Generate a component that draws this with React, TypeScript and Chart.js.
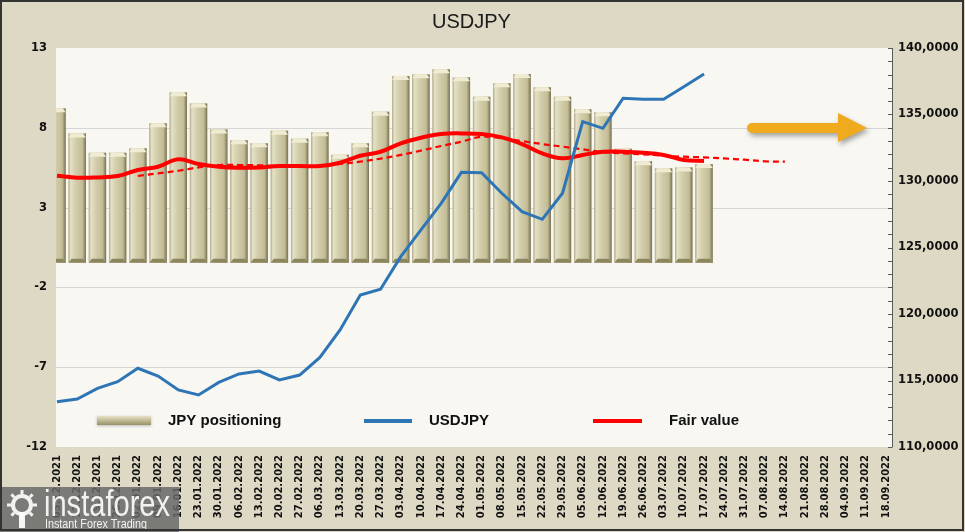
import React, { useEffect, useRef } from 'react';
import { Chart, registerables } from 'chart.js';

Chart.register(...registerables);

const DATES = [
  '05.12.2021', '12.12.2021', '19.12.2021', '26.12.2021',
  '02.01.2022', '09.01.2022', '16.01.2022', '23.01.2022', '30.01.2022',
  '06.02.2022', '13.02.2022', '20.02.2022', '27.02.2022',
  '06.03.2022', '13.03.2022', '20.03.2022', '27.03.2022',
  '03.04.2022', '10.04.2022', '17.04.2022', '24.04.2022',
  '01.05.2022', '08.05.2022', '15.05.2022', '22.05.2022', '29.05.2022',
  '05.06.2022', '12.06.2022', '19.06.2022', '26.06.2022',
  '03.07.2022', '10.07.2022', '17.07.2022', '24.07.2022', '31.07.2022',
  '07.08.2022', '14.08.2022', '21.08.2022', '28.08.2022',
  '04.09.2022', '11.09.2022', '18.09.2022',
];

const JPY_POSITIONING = [
  9.22, 7.65, 6.44, 6.44, 6.72, 8.28, 10.22, 9.53, 7.9, 7.22, 7.03, 7.82, 7.32,
  7.72, 6.31, 7.03, 9.01, 11.25, 11.35, 11.67, 11.16, 9.95, 10.79, 11.37, 10.54,
  9.95, 9.16, 8.97, 6.69, 5.9, 5.46, 5.52, 5.73,
];

const USDJPY = [
  113.41, 113.61, 114.41, 114.91, 115.92, 115.34, 114.29, 113.91, 114.86, 115.49,
  115.71, 115.04, 115.41, 116.74, 118.8, 121.43, 121.86, 124.31, 126.32, 128.32,
  130.65, 130.62, 129.08, 127.69, 127.12, 129.08, 134.46, 133.96, 136.22, 136.14,
  136.14, 137.09, 138.05,
];

const FAIR_VALUE = [
  5.0, 4.87, 4.89, 4.98, 5.36, 5.56, 6.03, 5.73, 5.56, 5.5, 5.52, 5.6, 5.6, 5.6,
  5.81, 6.25, 6.5, 7.03, 7.38, 7.61, 7.65, 7.61, 7.4, 6.98, 6.4, 6.09, 6.3, 6.5,
  6.5, 6.44, 6.3, 5.98, 5.92,
];

const FAIR_TREND = [
  null, null, null, null,
  4.98, 5.15, 5.31, 5.52, 5.67, 5.67, 5.65, 5.6, 5.6, 5.62, 5.73, 5.88, 6.07,
  6.3, 6.57, 6.86, 7.13, 7.44, 7.34, 7.17, 6.98, 6.82, 6.65, 6.48, 6.4, 6.34,
  6.25, 6.19, 6.15, 6.08, 6.0, 5.9, 5.88,
];

const LEFT_MIN = -12;
const LEFT_MAX = 13;
const LEFT_STEP = 5;
const RIGHT_MIN = 110;
const RIGHT_MAX = 140;
const RIGHT_STEP = 5;
const BAR_BASE = -0.45;

const TITLE = 'USDJPY';
const LEGEND_LABELS = ['JPY positioning', 'USDJPY', 'Fair value'];

const W = 965;
const H = 532;
const BEIGE = '#ddd9c4';
const PLOT_BG = '#f8f7f2';
const BLUE = '#2e75b6';
const RED = '#ff0000';

const backgroundPlugin = {
  id: 'bgPlugin',
  beforeDraw(chart: any) {
    const { ctx, chartArea } = chart;
    const yScale = chart.scales.y;
    const y2 = chart.scales.y2;
    ctx.save();
    ctx.fillStyle = BEIGE;
    ctx.fillRect(0, 0, W, H);
    const plotL = chartArea.left - 1;
    const plotR = chartArea.right + 6;
    ctx.fillStyle = PLOT_BG;
    ctx.fillRect(plotL, chartArea.top, plotR - plotL, chartArea.bottom - chartArea.top);
    ctx.strokeStyle = '#d6d6d6';
    ctx.lineWidth = 1;
    yScale.ticks.forEach((t: any) => {
      if (t.value === LEFT_MIN || t.value === LEFT_MAX) return;
      const py = Math.round(yScale.getPixelForValue(t.value)) + 0.5;
      ctx.beginPath();
      ctx.moveTo(plotL, py);
      ctx.lineTo(plotR, py);
      ctx.stroke();
    });
    ctx.strokeStyle = '#5a5a5a';
    ctx.beginPath();
    ctx.moveTo(plotR + 0.5, chartArea.top);
    ctx.lineTo(plotR + 0.5, chartArea.bottom);
    ctx.stroke();
    for (let v = RIGHT_MIN; v <= RIGHT_MAX; v += 1) {
      const py = Math.round(y2.getPixelForValue(v)) + 0.5;
      ctx.beginPath();
      ctx.moveTo(plotR - 4, py);
      ctx.lineTo(plotR + 0.5, py);
      ctx.stroke();
    }
    ctx.restore();
  },
};

const barPainter = {
  id: 'barPainter',
  afterDatasetDraw(chart: any, args: any) {
    if (args.index !== 0) return;
    const { ctx, chartArea } = chart;
    ctx.save();
    ctx.beginPath();
    ctx.rect(chartArea.left - 1, chartArea.top, chartArea.right - chartArea.left + 2, chartArea.bottom - chartArea.top);
    ctx.clip();
    args.meta.data.forEach((el: any) => {
      const { x, y, base, width } = el.getProps(['x', 'y', 'base', 'width'], true);
      const l = x - width / 2;
      const r = x + width / 2;
      const g = ctx.createLinearGradient(l, 0, r, 0);
      g.addColorStop(0, '#aea883');
      g.addColorStop(0.12, '#e5e1c7');
      g.addColorStop(0.4, '#d3ceab');
      g.addColorStop(0.8, '#c3bd97');
      g.addColorStop(1, '#767050');
      ctx.fillStyle = g;
      ctx.fillRect(l, y, width, base - y);
      ctx.fillStyle = '#f0ecd3';
      ctx.beginPath();
      ctx.moveTo(l, y + 4);
      ctx.lineTo(l + 3, y);
      ctx.lineTo(r - 3, y);
      ctx.lineTo(r, y + 4);
      ctx.closePath();
      ctx.fill();
      ctx.fillStyle = '#8c865f';
      ctx.beginPath();
      ctx.moveTo(l, base);
      ctx.lineTo(l + 3, base - 4);
      ctx.lineTo(r - 3, base - 4);
      ctx.lineTo(r, base);
      ctx.closePath();
      ctx.fill();
    });
    ctx.restore();
  },
};

function fitText(ctx: CanvasRenderingContext2D, text: string, x: number, y: number, width: number) {
  const m = ctx.measureText(text).width;
  ctx.save();
  ctx.translate(x, y);
  ctx.scale(width / m, 1);
  ctx.fillText(text, 0, 0);
  ctx.restore();
}

const decorPlugin = {
  id: 'decor',
  afterDraw(chart: any) {
    const { ctx, chartArea } = chart;
    ctx.save();
    ctx.fillStyle = '#1a1a1a';
    ctx.font = '20px "Liberation Sans", Arial, sans-serif';
    ctx.textAlign = 'center';
    ctx.textBaseline = 'middle';
    ctx.fillText(TITLE, (chartArea.left + chartArea.right) / 2, 22);

    const ly = 421;
    ctx.textAlign = 'left';
    ctx.font = 'bold 15px "Liberation Sans", Arial, sans-serif';
    const lg = ctx.createLinearGradient(0, ly - 5, 0, ly + 5);
    lg.addColorStop(0, '#e6e2c6');
    lg.addColorStop(0.5, '#bdb68f');
    lg.addColorStop(1, '#8d875f');
    ctx.shadowColor = 'rgba(0,0,0,0.25)';
    ctx.shadowBlur = 3;
    ctx.shadowOffsetY = 1;
    ctx.fillStyle = lg;
    ctx.fillRect(97, ly - 5, 54, 9);
    ctx.shadowColor = 'transparent';
    ctx.fillStyle = '#111';
    ctx.fillText(LEGEND_LABELS[0], 168, ly);

    ctx.strokeStyle = BLUE;
    ctx.lineWidth = 4;
    ctx.beginPath();
    ctx.moveTo(364, ly);
    ctx.lineTo(412, ly);
    ctx.stroke();
    ctx.fillText(LEGEND_LABELS[1], 429, ly);

    ctx.strokeStyle = RED;
    ctx.beginPath();
    ctx.moveTo(593, ly);
    ctx.lineTo(642, ly);
    ctx.stroke();
    ctx.fillText(LEGEND_LABELS[2], 669, ly);

    // arrow
    ctx.shadowColor = 'rgba(0,0,0,0.35)';
    ctx.shadowBlur = 5;
    ctx.shadowOffsetX = 2;
    ctx.shadowOffsetY = 3;
    ctx.fillStyle = '#f0aa1e';
    ctx.beginPath();
    ctx.moveTo(752, 123);
    ctx.lineTo(838, 123);
    ctx.lineTo(838, 113);
    ctx.lineTo(867, 128);
    ctx.lineTo(838, 142);
    ctx.lineTo(838, 133);
    ctx.lineTo(752, 133);
    ctx.arc(752, 128, 5, Math.PI / 2, Math.PI * 1.5);
    ctx.closePath();
    ctx.fill();
    ctx.shadowColor = 'transparent';
    ctx.shadowBlur = 0;
    ctx.shadowOffsetX = 0;
    ctx.shadowOffsetY = 0;

    // watermark
    ctx.fillStyle = 'rgba(105,105,105,0.85)';
    ctx.fillRect(0, 487, 179, H - 487);
    ctx.strokeStyle = 'rgba(255,255,255,0.9)';
    ctx.lineWidth = 4;
    ctx.beginPath();
    ctx.arc(22, 505, 9, 0, Math.PI * 2);
    ctx.stroke();
    ctx.lineWidth = 3;
    for (let k = 0; k < 8; k++) {
      const a = (k * Math.PI) / 4;
      ctx.beginPath();
      ctx.moveTo(22 + Math.cos(a) * 11, 505 + Math.sin(a) * 11);
      ctx.lineTo(22 + Math.cos(a) * 15, 505 + Math.sin(a) * 15);
      ctx.stroke();
    }
    ctx.fillStyle = 'rgba(255,255,255,0.92)';
    ctx.fillRect(19, 512, 6, 16);
    ctx.textBaseline = 'alphabetic';
    ctx.fillStyle = 'rgba(255,255,255,0.9)';
    ctx.font = '36px "Liberation Sans", sans-serif';
    fitText(ctx, 'instaforex', 44, 516, 126);
    ctx.font = '13px "Liberation Sans", sans-serif';
    fitText(ctx, 'Instant Forex Trading', 45, 528, 102);

    ctx.strokeStyle = '#333';
    ctx.lineWidth = 2;
    ctx.strokeRect(1, 1, W - 3, H - 3);
    ctx.restore();
  },
};

export default function App() {
  const canvasRef = useRef<HTMLCanvasElement | null>(null);

  useEffect(() => {
    document.body.style.margin = '0';
    const canvas = canvasRef.current;
    if (!canvas) return;
    const chart = new Chart(canvas, {
      type: 'bar',
      data: {
        labels: DATES,
        datasets: [
          {
            type: 'bar',
            label: LEGEND_LABELS[0],
            data: JPY_POSITIONING,
            base: BAR_BASE,
            yAxisID: 'y',
            backgroundColor: '#cfc9a6',
            borderWidth: 0,
            barPercentage: 0.86,
            categoryPercentage: 1,
            order: 5,
          } as any,
          {
            type: 'line',
            label: LEGEND_LABELS[1],
            data: USDJPY,
            yAxisID: 'y2',
            borderColor: BLUE,
            borderWidth: 3,
            pointRadius: 0,
            tension: 0,
            fill: false,
            order: 1,
          },
          {
            type: 'line',
            label: LEGEND_LABELS[2],
            data: FAIR_VALUE,
            yAxisID: 'y',
            borderColor: RED,
            borderWidth: 4,
            pointRadius: 0,
            tension: 0.4,
            fill: false,
            order: 2,
          },
          {
            type: 'line',
            label: 'Fair value trend',
            data: FAIR_TREND,
            yAxisID: 'y',
            borderColor: RED,
            borderWidth: 2.2,
            borderDash: [6, 4],
            pointRadius: 0,
            tension: 0.4,
            fill: false,
            order: 3,
          },
        ],
      },
      options: {
        responsive: false,
        animation: false,
        devicePixelRatio: 1,
        layout: { padding: { top: 48, left: 0, right: 0, bottom: 0 } },
        plugins: {
          legend: { display: false },
          title: { display: false },
          tooltip: { enabled: false },
        },
        scales: {
          x: {
            type: 'category',
            offset: false,
            grid: { display: false, drawTicks: false },
            border: { display: false },
            ticks: {
              autoSkip: false,
              maxRotation: 90,
              minRotation: 90,
              padding: 8,
              color: '#111',
              font: { family: '"DejaVu Sans", Verdana, sans-serif', weight: 'bold', size: 10 },
            },
            afterFit: (s: any) => {
              s.height = 85;
            },
          },
          y: {
            type: 'linear',
            position: 'left',
            min: LEFT_MIN,
            max: LEFT_MAX,
            grid: { display: false, drawTicks: false },
            border: { display: false },
            ticks: {
              stepSize: LEFT_STEP,
              padding: 10,
              color: '#111',
              font: { family: '"DejaVu Sans", Verdana, sans-serif', weight: 'bold', size: 11.5 },
            },
            afterFit: (s: any) => {
              s.width = 57;
            },
          },
          y2: {
            type: 'linear',
            position: 'right',
            min: RIGHT_MIN,
            max: RIGHT_MAX,
            grid: { display: false, drawTicks: false },
            border: { display: false },
            ticks: {
              stepSize: RIGHT_STEP,
              padding: 12,
              color: '#111',
              font: { family: '"DejaVu Sans", Verdana, sans-serif', weight: 'bold', size: 11.5 },
              callback: (v: any) => Number(v).toFixed(4).replace('.', ','),
            },
            afterFit: (s: any) => {
              s.width = 79;
            },
          },
        },
      },
      plugins: [backgroundPlugin, barPainter, decorPlugin],
    });
    return () => chart.destroy();
  }, []);

  return (
    <div style={{ width: W, height: H }}>
      <canvas ref={canvasRef} width={W} height={H} style={{ display: 'block', width: W, height: H }} />
    </div>
  );
}
